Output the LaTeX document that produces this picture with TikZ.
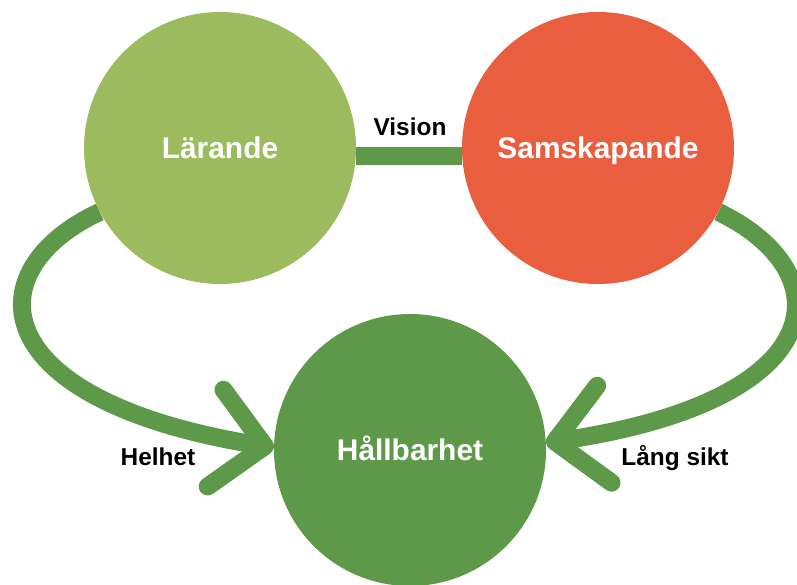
\documentclass[tikz,border=0pt]{standalone}
\usepackage{fontspec}
\setmainfont{Liberation Sans}
\usetikzlibrary{arrows.meta,backgrounds}
\definecolor{larcol}{HTML}{9CBB5E}
\definecolor{samcol}{HTML}{EA5E40}
\definecolor{hallcol}{HTML}{5E994A}

\tikzset{
  ring/.style={circle, minimum size=272bp, inner sep=0pt, text=white,
    font=\fontsize{30}{36}\selectfont\bfseries, text height=21bp, text depth=0bp},
  band/.style={line width=18bp, draw=hallcol},
  pil/.style={band, -{Straight Barb[length=50bp,width=98bp,round]}},
  etikett/.style={font=\fontsize{24.5}{30}\selectfont\bfseries, anchor=base, inner sep=0pt}
}

\begin{document}
\begin{tikzpicture}[x=1bp,y=-1bp]
  \useasboundingbox (0,0) rectangle (797,585);

  % Cirklarna
  \node[ring, fill=larcol] (lar) at (220,148) {Lärande};
  \node[ring, fill=samcol] (sam) at (598,148) {Samskapande};
  \node[ring, fill=hallcol] (hall) at (410,450) {Hållbarhet};

  % Förbindelser bakom cirklarna
  \begin{scope}[on background layer]
    \draw[band] ([yshift=-8bp]lar.east) -- ([yshift=-8bp]sam.west);
    \draw[pil] (lar.208) .. controls (-25,270) and (-18,400) .. (hall.179);
    \draw[pil] (sam.332) .. controls (843,272) and (835,400) .. (hall.3);
  \end{scope}

  % Etiketter
  \node[etikett] (vision) at (410,136) {Vision};
  \node[etikett] (helhet) at (158,465) {Helhet};
  \node[etikett] (lang) at (675,465) {Lång sikt};
\end{tikzpicture}
\end{document}
